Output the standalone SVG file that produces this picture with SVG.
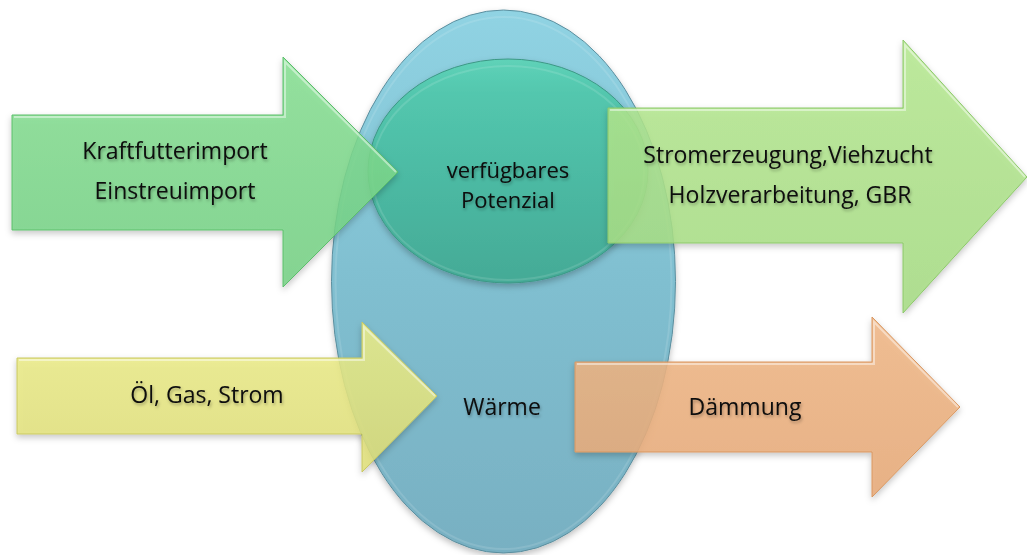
<svg xmlns="http://www.w3.org/2000/svg" width="1027" height="555" viewBox="0 0 1027 555">
<style>
.lbl{font-family:"Open Sans","Liberation Sans",sans-serif;font-size:23px;fill:#0a0a0a;text-anchor:middle;filter:url(#tshadow)}
.sm{font-size:22px}
.arrow{filter:url(#shadow)}
.bevel{fill:none;stroke:#ffffff;stroke-opacity:0.45;stroke-width:2}
.rim{fill:none;stroke:#ffffff;stroke-opacity:0.12;stroke-width:2}
</style>
<defs>
<filter id="shadow" x="-10%" y="-10%" width="120%" height="130%">
<feDropShadow dx="0" dy="3" stdDeviation="3" flood-color="#000" flood-opacity="0.25"/>
</filter>
<filter id="tshadow" x="-10%" y="-20%" width="120%" height="160%">
<feDropShadow dx="1" dy="2" stdDeviation="1.5" flood-color="#000" flood-opacity="0.3"/>
</filter>
<linearGradient id="gBlue" x1="0" y1="0" x2="0" y2="1">
<stop offset="0" stop-color="#90d3e3"/>
<stop offset="0.5" stop-color="#80bfd0"/>
<stop offset="1" stop-color="#78b0c2"/>
</linearGradient>
<linearGradient id="gTeal" x1="0" y1="0" x2="0" y2="1">
<stop offset="0" stop-color="#5fd2b8"/>
<stop offset="0.15" stop-color="#53c7ae"/>
<stop offset="1" stop-color="#44aa96"/>
</linearGradient>
<linearGradient id="gGreen1" x1="0" y1="0" x2="0" y2="1">
<stop offset="0" stop-color="#86e092"/>
<stop offset="1" stop-color="#74d183"/>
</linearGradient>
<linearGradient id="gGreen2" x1="0" y1="0" x2="0" y2="1">
<stop offset="0" stop-color="#b6ea90"/>
<stop offset="1" stop-color="#a6dc82"/>
</linearGradient>
<linearGradient id="gYellow" x1="0" y1="0" x2="0" y2="1">
<stop offset="0" stop-color="#eeef88"/>
<stop offset="1" stop-color="#e0df78"/>
</linearGradient>
<linearGradient id="gOrange" x1="0" y1="0" x2="0" y2="1">
<stop offset="0" stop-color="#f1b887"/>
<stop offset="1" stop-color="#e8aa78"/>
</linearGradient>
</defs>

<g id="waerme">
<ellipse cx="503.5" cy="281.5" rx="172" ry="271.5" fill="url(#gBlue)" stroke="#5b8e9e" stroke-width="1" filter="url(#shadow)"/>
<ellipse cx="503.5" cy="283" rx="168" ry="266" class="rim"/>
<text class="lbl" x="502" y="415">Wärme</text>
</g>

<g id="potenzial">
<ellipse cx="508" cy="171" rx="140" ry="112" fill="url(#gTeal)" stroke="#3c9885" stroke-width="1" filter="url(#shadow)"/>
<ellipse cx="508" cy="173" rx="136" ry="107" class="rim"/>
<text class="lbl sm" x="508" y="178">verfügbares</text>
<text class="lbl sm" x="508" y="208">Potenzial</text>
</g>

<g id="import">
<path class="arrow" d="M12,115 H283 V57 L398,172 L283,287 V230 H12 Z" fill="url(#gGreen1)" fill-opacity="0.84" stroke="#5cbf6c" stroke-width="1"/>
<path class="bevel" d="M14,117 H285 V62 L396,172"/>
<text class="lbl" x="175" y="159">Kraftfutterimport</text>
<text class="lbl" x="175" y="199">Einstreuimport</text>
</g>

<g id="nutzung">
<path class="arrow" d="M608,108 H903 V40 L1027,177 L903,313 V243 H608 Z" fill="url(#gGreen2)" fill-opacity="0.84" stroke="#8cc86a" stroke-width="1"/>
<path class="bevel" d="M610,110 H905 V45 L1025,177"/>
<text class="lbl" x="788" y="163">Stromerzeugung,Viehzucht</text>
<text class="lbl" x="790" y="203">Holzverarbeitung, GBR</text>
</g>

<g id="energietraeger">
<path class="arrow" d="M17,358 H362 V322 L437,396 L362,472 V434 H17 Z" fill="url(#gYellow)" fill-opacity="0.84" stroke="#c9c860" stroke-width="1"/>
<path class="bevel" d="M19,360 H364 V327 L435,396"/>
<text class="lbl" x="207" y="403">Öl, Gas, Strom</text>
</g>

<g id="daemmung">
<path class="arrow" d="M575,362 H872 V317 L960,407 L872,497 V452 H575 Z" fill="url(#gOrange)" fill-opacity="0.86" stroke="#d89660" stroke-width="1"/>
<path class="bevel" d="M577,364 H874 V322 L958,407"/>
<text class="lbl" x="745" y="415">Dämmung</text>
</g>
</svg>
